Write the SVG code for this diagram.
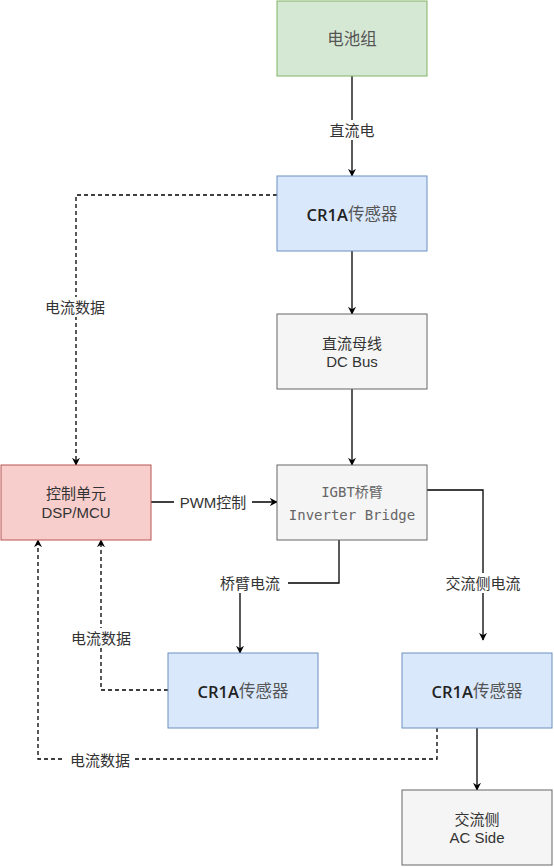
<svg xmlns="http://www.w3.org/2000/svg" width="554" height="867" viewBox="0 0 554 867">
<style>
.t{font-family:"Liberation Sans","Noto Sans CJK SC",sans-serif;font-size:15px;fill:#333333;text-anchor:middle;dominant-baseline:central}
.big{font-size:16.5px}
.m{font-family:"DejaVu Sans Mono","Noto Sans CJK SC",monospace;font-size:14px;fill:#666666;text-anchor:middle;dominant-baseline:central}
.lbl{font-family:"Liberation Sans","Noto Sans CJK SC",sans-serif;font-size:15px;fill:#333333;text-anchor:middle;dominant-baseline:central}
.cr{font-family:"Open Sans","Liberation Sans",sans-serif;font-weight:600;fill:#222222}
.cn{fill:#555555}
.s{fill:none;stroke:#000;stroke-width:1.3}
.d{fill:none;stroke:#000;stroke-width:1.3;stroke-dasharray:4 3}
.bg{fill:#ffffff}
</style>
<defs>
<marker id="a" viewBox="0 0 10 10" refX="9" refY="5" markerWidth="8" markerHeight="8" markerUnits="userSpaceOnUse" orient="auto"><path d="M0,0 L10,5 L0,10 L3,5 Z" fill="#000"/></marker>
</defs>
<rect width="554" height="867" fill="#ffffff"/>
<g id="connectors">
<path class="s" d="M352,76 V176" marker-end="url(#a)"/>
<path class="d" d="M277,195 H76 V465" marker-end="url(#a)"/>
<path class="s" d="M352,251 V314" marker-end="url(#a)"/>
<path class="s" d="M352,389 V465" marker-end="url(#a)"/>
<path class="s" d="M151,502 H277" marker-end="url(#a)"/>
<path class="s" d="M427,490 H483 V640" marker-end="url(#a)"/>
<path class="s" d="M339,540 V583 H240 V653" marker-end="url(#a)"/>
<path class="d" d="M168,690 H101 V540" marker-end="url(#a)"/>
<path class="d" d="M437,728 V759 H38 V540" marker-end="url(#a)"/>
<path class="s" d="M477,728 V790" marker-end="url(#a)"/>
<rect class="bg" x="322" y="120" width="60" height="20"/>
<text class="lbl" x="352" y="130">直流电</text>
<rect class="bg" x="40" y="297" width="70" height="20"/>
<text class="lbl" x="75" y="307">电流数据</text>
<rect class="bg" x="174" y="492" width="78" height="20"/>
<text class="lbl" x="213" y="502">PWM控制</text>
<rect class="bg" x="214" y="573" width="74" height="20"/>
<text class="lbl" x="250" y="583">桥臂电流</text>
<rect class="bg" x="438" y="573" width="90" height="20"/>
<text class="lbl" x="483" y="583">交流侧电流</text>
<rect class="bg" x="65" y="628" width="72" height="20"/>
<text class="lbl" x="101" y="638">电流数据</text>
<rect class="bg" x="65" y="750" width="70" height="20"/>
<text class="lbl" x="100" y="760">电流数据</text>
</g>
<g id="battery">
<rect x="277" y="1" width="150" height="75" fill="#d5e8d4" stroke="#82b366"/>
<text class="t big" x="352" y="39" style="fill:#555555">电池组</text>
</g>
<g id="sensor1">
<rect x="277" y="176" width="150" height="75" fill="#dae8fc" stroke="#6c8ebf"/>
<text class="t big" x="352" y="214"><tspan class="cr">CR1A</tspan><tspan class="cn">传感器</tspan></text>
</g>
<g id="dcbus">
<rect x="277" y="314" width="150" height="75" fill="#f5f5f5" stroke="#666666"/>
<text class="t" x="352" y="343">直流母线</text>
<text class="t" x="352" y="361">DC Bus</text>
</g>
<g id="igbt">
<rect x="277" y="465" width="150" height="75" fill="#f5f5f5" stroke="#666666"/>
<text class="m" x="352" y="492">IGBT桥臂</text>
<text class="m" x="352" y="515">Inverter Bridge</text>
</g>
<g id="control">
<rect x="1" y="465" width="150" height="75" fill="#f8cecc" stroke="#b85450"/>
<text class="t" x="76" y="493">控制单元</text>
<text class="t" x="76" y="512">DSP/MCU</text>
</g>
<g id="sensor2">
<rect x="168" y="653" width="150" height="75" fill="#dae8fc" stroke="#6c8ebf"/>
<text class="t big" x="243" y="691"><tspan class="cr">CR1A</tspan><tspan class="cn">传感器</tspan></text>
</g>
<g id="sensor3">
<rect x="402" y="653" width="150" height="75" fill="#dae8fc" stroke="#6c8ebf"/>
<text class="t big" x="477" y="691"><tspan class="cr">CR1A</tspan><tspan class="cn">传感器</tspan></text>
</g>
<g id="acside">
<rect x="402" y="790" width="150" height="75" fill="#f5f5f5" stroke="#666666"/>
<text class="t" x="477" y="819">交流侧</text>
<text class="t" x="477" y="837">AC Side</text>
</g>
</svg>
